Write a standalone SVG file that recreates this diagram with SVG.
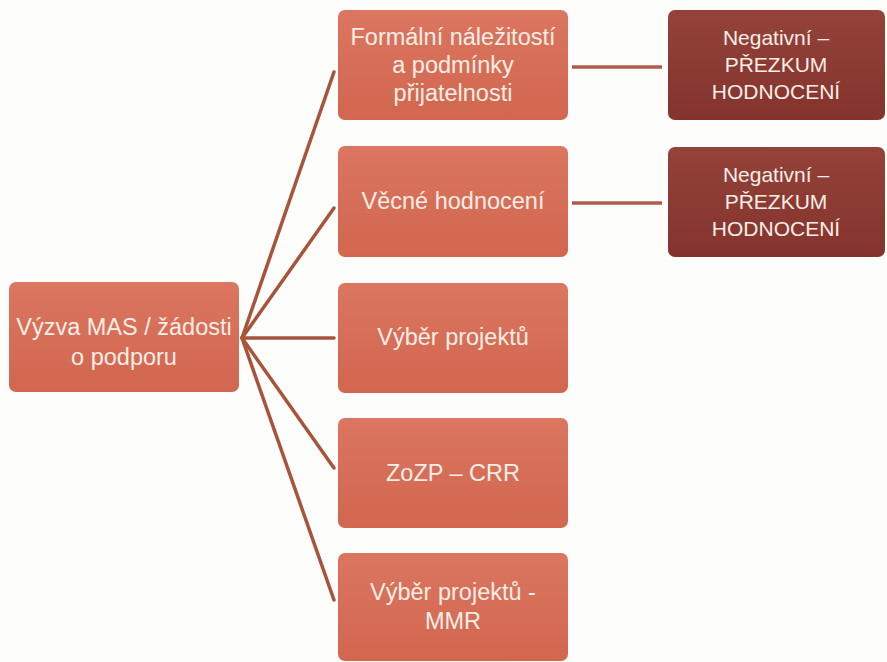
<svg xmlns="http://www.w3.org/2000/svg" width="887" height="662" viewBox="0 0 887 662">
<defs>
<linearGradient id="gMid" x1="0" y1="0" x2="0" y2="1">
<stop offset="0" stop-color="#db7660"/>
<stop offset="1" stop-color="#d2664f"/>
</linearGradient>
<linearGradient id="gDark" x1="0" y1="0" x2="0" y2="1">
<stop offset="0" stop-color="#94423a"/>
<stop offset="1" stop-color="#84342d"/>
</linearGradient>
</defs>
<style>
.mid{fill:url(#gMid);}
.dark{fill:url(#gDark);}
.t{font-family:"Liberation Sans","Open Sans",sans-serif;font-size:23.5px;fill:#fbeee6;text-anchor:middle;dominant-baseline:central;}
.d{font-size:21px;}
.fan{stroke:#a8543a;stroke-width:3.5;fill:none;stroke-linecap:round;}
.side{stroke:#b25a4c;stroke-width:3.5;fill:none;}
</style>
<rect width="887" height="662" fill="#fdfdfc"/>
<g id="connectors">
<line class="fan" x1="242" y1="338" x2="334" y2="72"/>
<line class="fan" x1="242" y1="338" x2="334" y2="208"/>
<line class="fan" x1="242" y1="338" x2="334" y2="338"/>
<line class="fan" x1="242" y1="338" x2="334" y2="468"/>
<line class="fan" x1="242" y1="338" x2="334" y2="600"/>
<line class="side" x1="572" y1="67" x2="662" y2="67"/>
<line class="side" x1="572" y1="203" x2="662" y2="203"/>
</g>
<g id="root">
<rect class="mid" x="9" y="282" width="230" height="110" rx="7"/>
<text class="t" x="124" y="327">Výzva MAS / žádosti</text>
<text class="t" x="124" y="357">o podporu</text>
</g>
<g id="formalni">
<rect class="mid" x="338" y="10" width="230" height="110" rx="7"/>
<text class="t" x="453" y="37">Formální náležitostí</text>
<text class="t" x="453" y="65">a podmínky</text>
<text class="t" x="453" y="93">přijatelnosti</text>
</g>
<g id="vecne">
<rect class="mid" x="338" y="146" width="230" height="111" rx="7"/>
<text class="t" x="453" y="201">Věcné hodnocení</text>
</g>
<g id="vyber">
<rect class="mid" x="338" y="283" width="230" height="110" rx="7"/>
<text class="t" x="453" y="337">Výběr projektů</text>
</g>
<g id="zozp">
<rect class="mid" x="338" y="418" width="230" height="110" rx="7"/>
<text class="t" x="453" y="473">ZoZP – CRR</text>
</g>
<g id="mmr">
<rect class="mid" x="338" y="553" width="230" height="108" rx="7"/>
<text class="t" x="453" y="592">Výběr projektů -</text>
<text class="t" x="453" y="621">MMR</text>
</g>
<g id="neg1">
<rect class="dark" x="668" y="10" width="217" height="110" rx="7"/>
<text class="t d" x="776" y="37">Negativní –</text>
<text class="t d" x="776" y="64">PŘEZKUM</text>
<text class="t d" x="776" y="91">HODNOCENÍ</text>
</g>
<g id="neg2">
<rect class="dark" x="668" y="147" width="217" height="110" rx="7"/>
<text class="t d" x="776" y="174">Negativní –</text>
<text class="t d" x="776" y="201">PŘEZKUM</text>
<text class="t d" x="776" y="228">HODNOCENÍ</text>
</g>
</svg>
